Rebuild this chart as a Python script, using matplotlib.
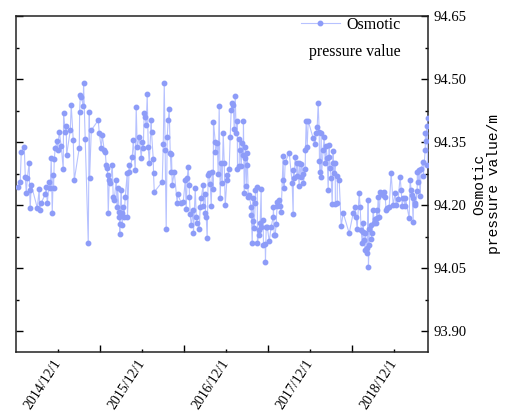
import numpy as np
import pandas as pd
import matplotlib
matplotlib.use("Agg")
import matplotlib.pyplot as plt
from matplotlib.lines import Line2D

# ---- data (decimal year, osmotic pressure value in m) ----
years = [
    2014.441, 2014.464, 2014.476, 2014.512, 2014.524, 2014.536, 2014.548, 2014.571, 2014.575, 2014.583,
    2014.595, 2014.667, 2014.690, 2014.694, 2014.714, 2014.762, 2014.774, 2014.786, 2014.810, 2014.821,
    2014.833, 2014.845, 2014.857, 2014.861, 2014.869, 2014.881, 2014.905, 2014.909, 2014.929, 2014.952,
    2014.976, 2014.980, 2015.000, 2015.012, 2015.016, 2015.060, 2015.071, 2015.095, 2015.107, 2015.167,
    2015.171, 2015.179, 2015.191, 2015.214, 2015.218, 2015.238, 2015.274, 2015.286, 2015.290, 2015.310,
    2015.393, 2015.405, 2015.429, 2015.440, 2015.464, 2015.476, 2015.488, 2015.500, 2015.504, 2015.512,
    2015.524, 2015.536, 2015.560, 2015.571, 2015.583, 2015.607, 2015.619, 2015.623, 2015.643, 2015.645,
    2015.647, 2015.649, 2015.667, 2015.670, 2015.679, 2015.690, 2015.702, 2015.714, 2015.738, 2015.741,
    2015.762, 2015.765, 2015.798, 2015.810, 2015.833, 2015.845, 2015.857, 2015.881, 2015.905, 2015.917,
    2015.929, 2015.940, 2015.952, 2015.964, 2015.976, 2015.988, 2016.000, 2016.024, 2016.027, 2016.048,
    2016.051, 2016.060, 2016.155, 2016.167, 2016.179, 2016.190, 2016.202, 2016.214, 2016.226, 2016.238,
    2016.250, 2016.262, 2016.265, 2016.274, 2016.298, 2016.333, 2016.337, 2016.381, 2016.405, 2016.429,
    2016.440, 2016.452, 2016.464, 2016.476, 2016.479, 2016.488, 2016.500, 2016.524, 2016.527, 2016.548,
    2016.560, 2016.571, 2016.595, 2016.607, 2016.619, 2016.643, 2016.646, 2016.667, 2016.670, 2016.679,
    2016.690, 2016.702, 2016.714, 2016.726, 2016.738, 2016.750, 2016.762, 2016.765, 2016.786, 2016.789,
    2016.810, 2016.821, 2016.833, 2016.845, 2016.857, 2016.869, 2016.881, 2016.893, 2016.905, 2016.929,
    2016.932, 2016.952, 2016.964, 2016.976, 2016.988, 2017.000, 2017.012, 2017.024, 2017.036, 2017.048,
    2017.051, 2017.071, 2017.074, 2017.083, 2017.095, 2017.107, 2017.119, 2017.122, 2017.131, 2017.143,
    2017.146, 2017.155, 2017.167, 2017.170, 2017.179, 2017.190, 2017.214, 2017.217, 2017.226, 2017.238,
    2017.241, 2017.250, 2017.262, 2017.265, 2017.286, 2017.289, 2017.310, 2017.313, 2017.321, 2017.333,
    2017.336, 2017.357, 2017.360, 2017.381, 2017.384, 2017.393, 2017.405, 2017.429, 2017.452, 2017.476,
    2017.479, 2017.488, 2017.500, 2017.512, 2017.524, 2017.527, 2017.548, 2017.560, 2017.571, 2017.595,
    2017.598, 2017.607, 2017.619, 2017.667, 2017.702, 2017.714, 2017.717, 2017.726, 2017.738, 2017.762,
    2017.765, 2017.786, 2017.789, 2017.810, 2017.813, 2017.833, 2017.836, 2017.857, 2017.860, 2017.869,
    2017.881, 2017.893, 2017.952, 2017.976, 2017.988, 2018.000, 2018.012, 2018.024, 2018.027, 2018.036,
    2018.048, 2018.051, 2018.071, 2018.083, 2018.095, 2018.107, 2018.119, 2018.131, 2018.143, 2018.146,
    2018.155, 2018.167, 2018.179, 2018.190, 2018.193, 2018.202, 2018.214, 2018.217, 2018.238, 2018.241,
    2018.262, 2018.286, 2018.310, 2018.381, 2018.429, 2018.452, 2018.464, 2018.476, 2018.500, 2018.512,
    2018.524, 2018.536, 2018.548, 2018.551, 2018.560, 2018.571, 2018.574, 2018.595, 2018.598, 2018.607,
    2018.610, 2018.619, 2018.622, 2018.643, 2018.646, 2018.655, 2018.667, 2018.679, 2018.690, 2018.702,
    2018.714, 2018.717, 2018.726, 2018.738, 2018.750, 2018.762, 2018.786, 2018.798, 2018.810, 2018.821,
    2018.833, 2018.857, 2018.881, 2018.905, 2018.929, 2018.940, 2018.964, 2018.988, 2019.000, 2019.012,
    2019.024, 2019.048, 2019.051, 2019.095, 2019.107, 2019.119, 2019.131, 2019.143, 2019.146, 2019.167,
    2019.170, 2019.190, 2019.193, 2019.202, 2019.214, 2019.226, 2019.238, 2019.262, 2019.265, 2019.286,
    2019.289, 2019.298, 2019.310, 2019.313, 2019.321,
]
values = [
    94.243, 94.255, 94.326, 94.338, 94.267, 94.228, 94.264, 94.300, 94.236, 94.193,
    94.248, 94.193, 94.238, 94.188, 94.205, 94.226, 94.243, 94.205, 94.255, 94.240,
    94.312, 94.181, 94.271, 94.240, 94.309, 94.336, 94.352, 94.331, 94.374, 94.340,
    94.286, 94.419, 94.374, 94.388, 94.319, 94.378, 94.438, 94.355, 94.259, 94.336,
    94.421, 94.462, 94.457, 94.436, 94.490, 94.357, 94.109, 94.421, 94.264, 94.378,
    94.402, 94.371, 94.336, 94.367, 94.331, 94.326, 94.295, 94.288, 94.271, 94.181,
    94.259, 94.252, 94.295, 94.219, 94.212, 94.259, 94.195, 94.240, 94.183, 94.171,
    94.155, 94.131, 94.236, 94.181, 94.152, 94.195, 94.171, 94.219, 94.276, 94.171,
    94.295, 94.278, 94.314, 94.355, 94.283, 94.433, 94.338, 94.362, 94.312, 94.350,
    94.336, 94.419, 94.409, 94.390, 94.464, 94.338, 94.300, 94.402, 94.374, 94.309,
    94.276, 94.231, 94.255, 94.345, 94.490, 94.331, 94.143, 94.362, 94.402, 94.428,
    94.324, 94.278, 94.321, 94.248, 94.278, 94.205, 94.226, 94.205, 94.207, 94.259,
    94.190, 94.264, 94.290, 94.248, 94.219, 94.178, 94.152, 94.188, 94.133, 94.240,
    94.171, 94.157, 94.143, 94.195, 94.217, 94.248, 94.198, 94.226, 94.181, 94.171,
    94.121, 94.271, 94.276, 94.250, 94.198, 94.278, 94.238, 94.398, 94.350, 94.326,
    94.348, 94.274, 94.436, 94.217, 94.300, 94.252, 94.371, 94.300, 94.200, 94.271,
    94.259, 94.286, 94.362, 94.426, 94.443, 94.438, 94.381, 94.459, 94.371, 94.400,
    94.286, 94.293, 94.357, 94.331, 94.293, 94.348, 94.319, 94.400, 94.228, 94.312,
    94.338, 94.245, 94.324, 94.295, 94.219, 94.224, 94.195, 94.176, 94.109, 94.217,
    94.162, 94.145, 94.205, 94.236, 94.243, 94.109, 94.140, 94.129, 94.157, 94.238,
    94.148, 94.164, 94.105, 94.107, 94.064, 94.148, 94.148, 94.114, 94.148, 94.171,
    94.195, 94.129, 94.129, 94.155, 94.207, 94.198, 94.212, 94.198, 94.183, 94.317,
    94.259, 94.240, 94.302, 94.324, 94.252, 94.178, 94.283, 94.264, 94.314, 94.269,
    94.300, 94.245, 94.300, 94.267, 94.298, 94.274, 94.252, 94.286, 94.331, 94.400,
    94.338, 94.400, 94.359, 94.345, 94.371, 94.386, 94.443, 94.374, 94.305, 94.278,
    94.371, 94.267, 94.331, 94.362, 94.300, 94.340, 94.312, 94.236, 94.343, 94.314,
    94.288, 94.264, 94.202, 94.328, 94.300, 94.276, 94.300, 94.202, 94.205, 94.269,
    94.259, 94.150, 94.181, 94.133, 94.181, 94.195, 94.171, 94.143, 94.228, 94.195,
    94.140, 94.109, 94.157, 94.136, 94.117, 94.093, 94.133, 94.098, 94.086, 94.212,
    94.052, 94.105, 94.143, 94.152, 94.119, 94.133, 94.188, 94.157, 94.167, 94.157,
    94.188, 94.169, 94.219, 94.171, 94.231, 94.228, 94.224, 94.231, 94.219, 94.188,
    94.193, 94.195, 94.276, 94.200, 94.228, 94.200, 94.214, 94.267, 94.236, 94.198,
    94.217, 94.198, 94.217, 94.169, 94.259, 94.236, 94.224, 94.159, 94.217, 94.205,
    94.200, 94.233, 94.278, 94.255, 94.283, 94.221, 94.286, 94.302, 94.269, 94.331,
    94.371, 94.352, 94.388, 94.295, 94.407,
]

x_tick_labels = ["2014/12/1", "2015/12/1", "2016/12/1", "2017/12/1", "2018/12/1"]
y_ticks = [93.90, 94.05, 94.20, 94.35, 94.50, 94.65]
series_name = "Osmotic"
series_name2 = "pressure value"
y_label = "Osmotic\npressure value/m"

# ---- style ----
plt.rcParams["font.family"] = ["Liberation Serif", "DejaVu Serif"]
line_color = "#b7c2ff"
marker_color = "#8d9cf8"

yrs = np.array(years)
dates = pd.Timestamp("2014-01-01") + pd.to_timedelta((yrs - 2014.0) * 365.25, unit="D")

fig = plt.figure(figsize=(5.08, 4.17), dpi=100)
ax = fig.add_axes([16 / 508, 1 - 352 / 417, (428 - 16) / 508, (352 - 16) / 417])

ax.plot(dates, values, color=line_color, lw=0.8, marker="o", ms=3.2,
        mfc=marker_color, mec=marker_color, zorder=3)

ax.set_xlim(pd.Timestamp("2014-06-01"), pd.Timestamp("2019-04-28"))
ax.set_ylim(93.85, 94.65)

# x ticks: labelled short ticks on Dec 1, unlabelled long ticks on Jun 1
major_x = pd.to_datetime([s.replace("/", "-") for s in x_tick_labels])
minor_x = pd.to_datetime(["2015-06-01", "2016-06-01", "2017-06-01", "2018-06-01"])
ax.set_xticks(major_x)
ax.set_xticklabels(x_tick_labels, rotation=57, ha="right", va="center",
                   rotation_mode="anchor", fontsize=10)
ax.set_xticks(minor_x, minor=True)
ax.tick_params(axis="x", which="major", direction="in", length=2.5, width=1.0, pad=6)
ax.tick_params(axis="x", which="minor", direction="in", length=5, width=1.0)

# y ticks on the right
ax.set_yticks(y_ticks)
ax.set_yticklabels([f"{v:.2f}" for v in y_ticks], fontsize=10.5)
ax.set_yticks(np.array(y_ticks[:-1]) + 0.075, minor=True)
ax.tick_params(axis="y", which="both", direction="in", left=True, right=True,
               labelleft=False, labelright=True, width=1.0)
ax.tick_params(axis="y", which="major", length=5, pad=4)
ax.tick_params(axis="y", which="minor", length=2.5)

for sp in ax.spines.values():
    sp.set_linewidth(1.1)
    sp.set_color("#222222")

# right y label
ax.yaxis.set_label_position("right")
ax.set_ylabel(y_label, family=["Liberation Mono", "DejaVu Sans Mono"], fontsize=10.5,
              rotation=90, labelpad=4, linespacing=1.1)

# legend
handle = Line2D([], [], color=line_color, lw=0.8, marker="o", ms=3.2,
                mfc=marker_color, mec=marker_color)
ax.legend([handle], [series_name], loc="upper right",
          bbox_to_anchor=(401 / 508, 1 - 17 / 417), bbox_transform=fig.transFigure,
          frameon=False, fontsize=11.5, borderpad=0, borderaxespad=0,
          handlelength=2.4, handletextpad=0.45)
fig.text(401 / 508, 1 - 52 / 417, series_name2, ha="right", va="center", fontsize=11.5)

fig.savefig("out.png", dpi=100)
